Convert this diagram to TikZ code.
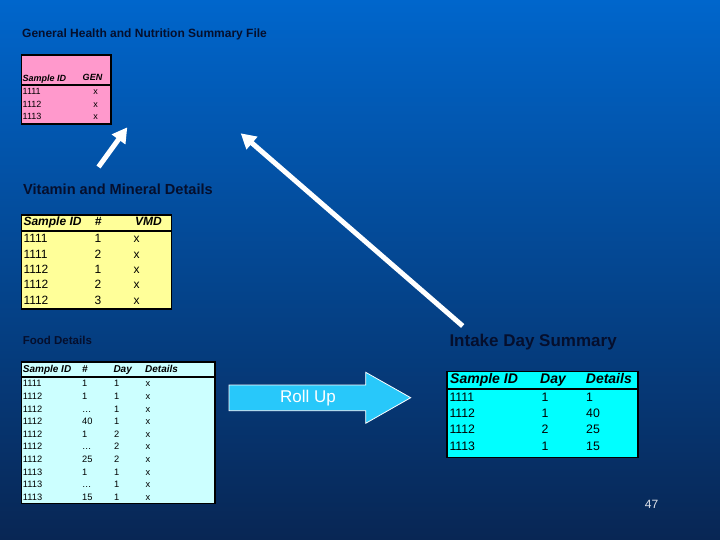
\documentclass[tikz,border=0pt]{standalone}
\usepackage{fontspec}
\setmainfont{Liberation Sans}
\usetikzlibrary{arrows.meta,positioning}
\definecolor{slidetop}{RGB}{0,102,204}
\definecolor{slidemid}{RGB}{2,82,168}
\definecolor{slidebot}{RGB}{8,38,84}
\definecolor{titleink}{RGB}{5,15,45}
\definecolor{genpink}{RGB}{255,153,204}
\definecolor{vmdyellow}{RGB}{255,255,153}
\definecolor{foodcyan}{RGB}{204,255,255}
\definecolor{intakecyan}{RGB}{0,255,255}
\definecolor{rollblue}{RGB}{40,200,250}
\definecolor{pageink}{RGB}{225,228,235}
\tikzset{
  heading/.style = {anchor=west, inner sep=0pt, text=titleink, font=\bfseries},
  frame/.style   = {draw=black, line width=1.6pt, anchor=north west, inner sep=0pt},
  cell/.style    = {anchor=west, inner sep=0pt, text=black, text height=0.72em, text depth=0pt},
  headcell/.style = {cell, font=\bfseries\itshape},
  link/.style    = {draw=white, line width=5pt, -{Triangle[length=15pt,width=16pt]}}
}
\newcommand{\fs}[1]{\fontsize{#1}{#1}\selectfont}

\begin{document}
\begin{tikzpicture}[x=1pt, y=-1pt]
  % slide background
  \useasboundingbox (0,0) rectangle (720,540);
  \shade[top color=slidetop, middle color=slidemid, bottom color=slidebot] (0,0) rectangle (720,540);

  % headings
  \node[heading, font=\bfseries\fs{12}] (gentitle) at (22,34) {General Health and Nutrition Summary File};
  \node[heading, font=\bfseries\fs{14.6}] (vmdtitle) at (23,189) {Vitamin and Mineral Details};
  \node[heading, font=\bfseries\fs{11.5}] (foodtitle) at (22.7,340.5) {Food Details};
  \node[heading, font=\bfseries\fs{17}] (intaketitle) at (449.3,342.3) {Intake Day Summary};

  % general health table
  \node[frame, fill=genpink, minimum width=89.3pt, minimum height=69pt] (gen) at (20.7,54.3) {};
  \draw[line width=1.4pt] (20.7,85) -- (110,85);
  \begin{scope}[every node/.style={font=\fs{9}}]
    \node[headcell, font=\bfseries\itshape\fs{9}] (genh1) at (22.5,78.3) {Sample ID};
    \node[headcell, anchor=center, font=\bfseries\itshape\fs{9}] (genh2) at (92.5,76.7) {GEN};
    \foreach \id/\y [count=\i] in {1111/91,1112/103.5,1113/116} {
      \node[cell] (genid\i) at (22.5,\y) {\id};
      \node[cell, anchor=center] (genx\i) at (95.7,\y) {x};
    }
  \end{scope}

  % vitamin and mineral table
  \node[frame, fill=vmdyellow, minimum width=150pt, minimum height=94pt] (vmd) at (20.7,214.3) {};
  \draw[line width=1.6pt] (20.7,231) -- (170.7,231);
  \begin{scope}[every node/.style={font=\fs{12}}]
    \node[headcell, font=\bfseries\itshape\fs{12}] (vmdh1) at (23.3,222.3) {Sample ID};
    \node[headcell, anchor=center, font=\bfseries\itshape\fs{12}] (vmdh2) at (98.3,222.3) {\#};
    \node[headcell, font=\bfseries\itshape\fs{12}] (vmdh3) at (135,222.3) {VMD};
    \foreach \id/\n [count=\i] in {1111/1,1111/2,1112/1,1112/2,1112/3} {
      \node[cell] (vmdid\i) at (23.3,{239.3+15.35*(\i-1)}) {\id};
      \node[cell, anchor=center] (vmdn\i) at (98,{239.3+15.35*(\i-1)}) {\n};
      \node[cell, anchor=center] (vmdx\i) at (136.7,{239.3+15.35*(\i-1)}) {x};
    }
  \end{scope}

  % food details table
  \node[frame, fill=foodcyan, minimum width=193.6pt, minimum height=141.7pt] (food) at (20.7,361) {};
  \draw[line width=1.6pt] (20.7,376.7) -- (214.3,376.7);
  \begin{scope}[every node/.style={font=\fs{9.3}}]
    \node[headcell, font=\bfseries\itshape\fs{10}] (foodh1) at (22.7,369) {Sample ID};
    \node[headcell, font=\bfseries\itshape\fs{10}] (foodh2) at (82,369) {\#};
    \node[headcell, font=\bfseries\itshape\fs{10}] (foodh3) at (113.3,369) {Day};
    \node[headcell, font=\bfseries\itshape\fs{10}] (foodh4) at (145,369) {Details};
    \foreach \id/\n/\d [count=\i] in {1111/1/1,1112/1/1,1112/\dots/1,1112/40/1,1112/1/2,
                                      1112/\dots/2,1112/25/2,1113/1/1,1113/\dots/1,1113/15/1} {
      \node[cell] (foodid\i) at (22.7,{383.3+12.6*(\i-1)}) {\id};
      \node[cell] (foodn\i) at (82,{383.3+12.6*(\i-1)}) {\n};
      \node[cell] (foodd\i) at (114,{383.3+12.6*(\i-1)}) {\d};
      \node[cell] (foodx\i) at (145.5,{383.3+12.6*(\i-1)}) {x};
    }
  \end{scope}

  % intake day summary table
  \node[frame, fill=intakecyan, minimum width=191.3pt, minimum height=86pt] (intake) at (446,370.7) {};
  \draw[line width=1.6pt] (446,389) -- (637.3,389);
  \begin{scope}[every node/.style={font=\fs{12.3}}]
    \node[headcell, font=\bfseries\itshape\fs{14}] (intakeh1) at (450,380) {Sample ID};
    \node[headcell, font=\bfseries\itshape\fs{14}] (intakeh2) at (540,380) {Day};
    \node[headcell, font=\bfseries\itshape\fs{14}] (intakeh3) at (585.7,380) {Details};
    \foreach \id/\d/\n [count=\i] in {1111/1/1,1112/1/40,1112/2/25,1113/1/15} {
      \node[cell] (intakeid\i) at (449.3,{397.7+16.3*(\i-1)}) {\id};
      \node[cell] (intaked\i) at (541.5,{397.7+16.3*(\i-1)}) {\d};
      \node[cell] (intaken\i) at (586,{397.7+16.3*(\i-1)}) {\n};
    }
  \end{scope}

  % roll up arrow
  \draw[white, line width=0.8pt, fill=rollblue]
    (229,385) -- (365.7,385) -- (365.7,372.3) -- (410.7,397.7)
    -- (365.7,423.3) -- (365.7,410.7) -- (229,410.7) -- cycle;
  \node[text=white, inner sep=0pt, font=\fs{17}] (rollup) at (308,397.7) {Roll Up};

  % links back to the summary file
  \coordinate (vmdtail) at (98.5,167);
  \coordinate (gentip) at (127.3,127.3);
  \coordinate (intaketail) at (462.7,326);
  \coordinate (sumtip) at (240.7,133.3);
  \draw[link] (vmdtail) -- (gentip);
  \draw[link] (intaketail) -- (sumtip);

  % slide number
  \node[text=pageink, inner sep=0pt, font=\fs{12}] (pagenum) at (651.5,504) {47};
\end{tikzpicture}
\end{document}
